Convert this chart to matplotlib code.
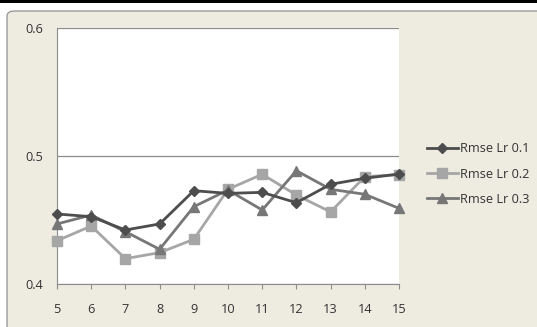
import matplotlib
matplotlib.use("Agg")
import matplotlib.pyplot as plt
from matplotlib.patches import FancyBboxPatch, Rectangle

x_vals = [5, 6, 7, 8, 9, 10, 11, 12, 13, 14, 15]
lr01 = [0.4547, 0.4526, 0.4422, 0.4469, 0.4729, 0.4708, 0.4716, 0.4635, 0.4779, 0.4826, 0.4859]
lr02 = [0.4338, 0.4453, 0.4198, 0.4245, 0.4349, 0.4740, 0.4857, 0.4695, 0.4563, 0.4839, 0.4854]
lr03 = [0.4469, 0.4539, 0.4409, 0.4271, 0.4604, 0.4734, 0.4578, 0.4885, 0.4740, 0.4701, 0.4591]
labels = ["Rmse Lr 0.1", "Rmse Lr 0.2", "Rmse Lr 0.3"]
y_ticks = [0.4, 0.5, 0.6]

plt.rcParams['font.family'] = ['Open Sans', 'DejaVu Sans']

W, H = 537, 327
fig = plt.figure(figsize=(W / 100, H / 100), dpi=100)
fig.patch.set_facecolor('white')

# outer chart frame
frame = FancyBboxPatch((7 / W, -0.05), 1.2, (H - 11) / H + 0.05,
                       boxstyle="round,pad=0,rounding_size=0.015",
                       transform=fig.transFigure, facecolor='#EEECE1',
                       edgecolor='#9A9A9A', linewidth=1.0, zorder=-2)
fig.patches.append(frame)
# black top bar
fig.patches.append(Rectangle((0, 1 - 3 / H), 1, 3 / H, transform=fig.transFigure,
                             facecolor='black', edgecolor='none', zorder=-1))

ax = fig.add_axes([57 / W, 1 - 284 / H, (399 - 57) / W, (284 - 28) / H])
ax.set_zorder(2)
ax.set_facecolor('white')

ax.plot(x_vals, lr01, color='#4D4D4D', marker='D', markersize=5, linewidth=2.0, label=labels[0], zorder=5)
ax.plot(x_vals, lr02, color='#A6A6A6', marker='s', markersize=6.5, linewidth=2.0, label=labels[1], zorder=3)
ax.plot(x_vals, lr03, color='#777777', marker='^', markersize=7, linewidth=2.0, label=labels[2], zorder=4)

ax.set_xlim(5, 15)
ax.set_ylim(0.4, 0.6)
ax.set_xticks(x_vals)
ax.set_yticks(y_ticks)
ax.set_yticklabels(['0.4', '0.5', '0.6'])
ax.yaxis.grid(True, color='#8C8C8C', linewidth=0.9)
ax.set_axisbelow(True)
for s in ['top', 'right']:
    ax.spines[s].set_visible(False)
ax.spines['left'].set_color('#8C8C8C')
ax.spines['bottom'].set_color('#8C8C8C')
ax.tick_params(axis='y', length=0, pad=10, labelsize=9.2, colors='#333333')
ax.tick_params(axis='x', length=3.5, direction='out', pad=10, labelsize=9.2, colors='#333333')
ax.tick_params(axis='x', color='#8C8C8C')
for line in ax.get_lines():
    line.set_clip_on(False)

leg = fig.legend(loc='center left', bbox_to_anchor=(422 / W, 1 - 174 / H), frameon=False,
                 fontsize=9.2, handlelength=2.4, handletextpad=0.2, labelspacing=0.95,
                 borderaxespad=0)
for t in leg.get_texts():
    t.set_color('#333333')

fig.savefig('out.png', dpi=100, facecolor='white')
